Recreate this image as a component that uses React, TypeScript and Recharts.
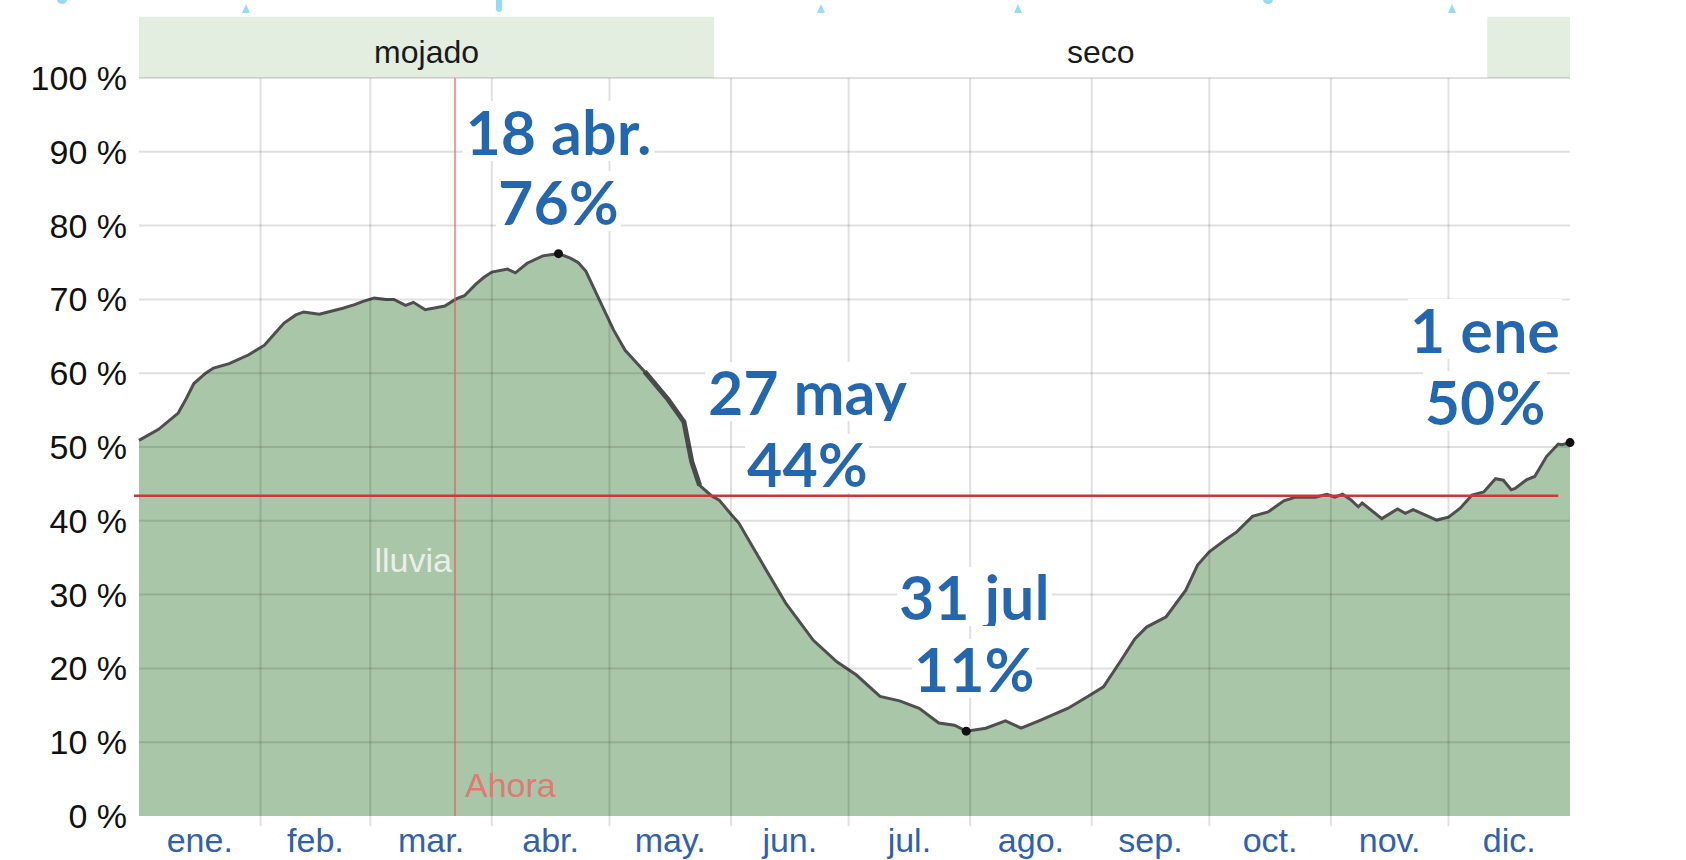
import React from 'react';
import {
  ComposedChart,
  Area,
  Line,
  XAxis,
  YAxis,
  ReferenceLine,
  ReferenceArea,
  ReferenceDot,
} from 'recharts';

// Probabilidad de lluvia, leída día a día (día del año 0..365, %).
const rainDays = [
  0, 5, 10, 12, 14, 17, 19, 23, 28, 32,
  34, 37, 40, 42, 46, 49, 52, 55, 57, 60,
  63, 65, 68, 70, 73, 76, 78, 81, 83, 86,
  88, 90, 94, 96, 99, 103, 107, 110, 112, 114,
  117, 121, 124, 129, 135, 139, 141, 143, 146, 148,
  151, 153, 159, 165, 172, 178, 183, 189, 194, 199,
  204, 208, 211, 216, 221, 225, 230, 237, 242, 246,
  250, 254, 257, 262, 267, 270, 273, 277, 280, 284,
  288, 292, 295, 300, 303, 305, 307, 309, 311, 312,
  317, 321, 323, 325, 328, 331, 334, 337, 340, 343,
  346, 348, 350, 351, 354, 356, 359, 362, 363, 365,
];
const rainValues = [
  50.9, 52.4, 54.6, 56.5, 58.6, 60.0, 60.7, 61.3, 62.5, 63.8,
  65.0, 66.8, 67.9, 68.3, 68.0, 68.4, 68.8, 69.3, 69.7, 70.2,
  70.0, 70.0, 69.2, 69.6, 68.6, 68.9, 69.1, 70.1, 70.5, 72.1,
  73.0, 73.7, 74.1, 73.6, 74.9, 75.9, 76.2, 75.6, 75.0, 73.8,
  70.4, 65.9, 63.1, 60.2, 56.4, 53.4, 48.0, 44.8, 43.4, 42.8,
  40.9, 39.7, 34.2, 28.8, 23.8, 20.9, 19.1, 16.2, 15.6, 14.6,
  12.6, 12.3, 11.5, 11.9, 12.9, 11.9, 13.0, 14.6, 16.2, 17.5,
  20.7, 24.0, 25.6, 27.0, 30.6, 34.0, 35.8, 37.4, 38.5, 40.6,
  41.2, 42.7, 43.2, 43.2, 43.6, 43.2, 43.6, 42.9, 41.9, 42.4,
  40.3, 41.6, 41.0, 41.5, 40.8, 40.1, 40.5, 41.7, 43.5, 43.9,
  45.7, 45.5, 44.2, 44.4, 45.6, 46.0, 48.7, 50.4, 50.3, 50.6,
];

const monthLabels = ['ene.', 'feb.', 'mar.', 'abr.', 'may.', 'jun.', 'jul.', 'ago.', 'sep.', 'oct.', 'nov.', 'dic.'];
const monthStartDays = [0, 31, 59, 90, 120, 151, 181, 212, 243, 273, 304, 334];
const monthLengths = [31, 28, 31, 30, 31, 30, 31, 31, 30, 31, 30, 31];
const percentTicks = [0, 10, 20, 30, 40, 50, 60, 70, 80, 90, 100];

// temporadas: mojado hasta el 27 may y desde el 10 dic
const wetSeasons = [[0, 146.7], [343.9, 365]];
const drySeason = [146.7, 343.9];

const nowDay = 80.6;
const thresholdValue = 43.4;
const thresholdSpan = [-1.3, 362];
const editedSpan = [129, 143];

const noteDays = [107, 146, 211, 365];
const noteValues = [76.2, 43.4, 11.5, 50.6];
const noteDates = ['18 abr.', '27 may', '31 jul', '1 ene'];
const notePercents = ['76%', '44%', '11%', '50%'];
const noteHasDot = [true, false, true, true];

// layout (px offsets from each anchor point)
const NOTE_OFFSETS = [
  { dx: 0, dy: [-99, -29] },
  { dx: 96, dy: [-81, -9] },
  { dx: 8, dy: [-111, -39] },
  { dx: -85, dy: [-90, -18] },
];
const BAND_TOP = 108.3; // top band extends above 100 %
const TICK_EXT = -1.4;
const LLUVIA_VALUE = 33;
const AHORA_VALUE = 2.6;

const drops = [
  { x: 62, kind: 'bottom' },
  { x: 246, kind: 'tip' },
  { x: 499, kind: 'long' },
  { x: 821, kind: 'tip' },
  { x: 1018, kind: 'tip' },
  { x: 1268, kind: 'bottom' },
  { x: 1452, kind: 'tip' },
];

const AXIS_FONT = '"Liberation Sans", Arial, Helvetica, sans-serif';
const NOTE_FONT = 'Lato, "Open Sans", sans-serif';
const NOTE_BLUE = '#2167b1';
const GRID = 'rgba(0,0,0,0.12)';

const chartData = rainDays.map((day, i) => ({
  day,
  rain: rainValues[i],
  edit: day >= editedSpan[0] && day <= editedSpan[1] ? rainValues[i] : null,
}));

function NoteLabel(props: any) {
  const { viewBox, lines, dx, dy } = props;
  if (!viewBox) return null;
  const cx = viewBox.x + (viewBox.width || 0) / 2;
  const cy = viewBox.y + (viewBox.height || 0) / 2;
  return (
    <g>
      {lines.map((t: string, i: number) => (
        <text
          key={t}
          x={cx + dx}
          y={cy + dy[i]}
          textAnchor="middle"
          filter="url(#noteBg)"
          style={{ fontFamily: NOTE_FONT, fontWeight: 700, fontSize: 61, fill: NOTE_BLUE }}
        >
          {t}
        </text>
      ))}
    </g>
  );
}

function PlainLabel(props: any) {
  const { viewBox, text, dx, anchor, color } = props;
  if (!viewBox) return null;
  const cx = viewBox.x + (viewBox.width || 0) / 2;
  const cy = viewBox.y + (viewBox.height || 0) / 2;
  return (
    <text
      x={cx + dx}
      y={cy}
      textAnchor={anchor}
      style={{ fontFamily: AXIS_FONT, fontSize: 34, fill: color }}
    >
      {text}
    </text>
  );
}

function BandLabel(props: any) {
  const { viewBox, text } = props;
  if (!viewBox) return null;
  return (
    <text
      x={viewBox.x + viewBox.width / 2}
      y={viewBox.y + viewBox.height - 15}
      textAnchor="middle"
      style={{ fontFamily: AXIS_FONT, fontSize: 32, fill: '#1a1a1a' }}
    >
      {text}
    </text>
  );
}

function Drops() {
  return (
    <svg width={1686} height={20} style={{ position: 'absolute', left: 0, top: 0 }}>
      {drops.map((d) => {
        if (d.kind === 'tip') {
          return <path key={d.x} d={`M${d.x},4 L${d.x + 4},13 L${d.x - 4},13 Z`} fill="#96dcf5" />;
        }
        if (d.kind === 'long') {
          return <path key={d.x} d={`M${d.x - 3},0 L${d.x + 3},0 L${d.x + 3},9 A3,3 0 0 1 ${d.x - 3},9 Z`} fill="#96dcf5" />;
        }
        return <ellipse key={d.x} cx={d.x} cy={0} rx={5} ry={4} fill="#96dcf5" />;
      })}
    </svg>
  );
}

export default function App() {
  const monthMid = monthStartDays.map((s, i) => s + monthLengths[i] / 2);

  return (
    <div style={{ position: 'relative', width: 1686, height: 860, background: '#fff' }}>
      <style>{'body{margin:0;}'}</style>
      <svg width={0} height={0} style={{ position: 'absolute' }}>
        <defs>
          <filter id="noteBg" x="-0.01" y="0.1" width="1.02" height="0.8">
            <feFlood floodColor="#ffffff" />
            <feMerge>
              <feMergeNode />
              <feMergeNode in="SourceGraphic" />
            </feMerge>
          </filter>
        </defs>
      </svg>
      <ComposedChart
        width={1686}
        height={860}
        data={chartData}
        margin={{ top: 78, right: 0, bottom: 0, left: 0 }}
      >
        <XAxis
          dataKey="day"
          type="number"
          domain={[0, 365]}
          ticks={monthMid}
          tickFormatter={(_v: number, i: number) => monthLabels[i]}
          interval={0}
          axisLine={false}
          tickLine={false}
          tickSize={0}
          tickMargin={12}
          height={44}
          tick={{ fill: '#3160ad', fontSize: 34, fontFamily: AXIS_FONT }}
        />
        <YAxis
          domain={[0, 100]}
          ticks={percentTicks}
          interval={0}
          tickFormatter={(v: number) => `${v} %`}
          axisLine={false}
          tickLine={false}
          tickSize={0}
          tickMargin={12}
          width={139}
          tick={{ fill: '#111', fontSize: 34, fontFamily: AXIS_FONT }}
        />
        <YAxis
          yAxisId="r"
          orientation="right"
          domain={[0, 100]}
          ticks={percentTicks}
          interval={0}
          tickFormatter={(v: number) => `${v} %`}
          axisLine={false}
          tickLine={false}
          tickSize={0}
          tickMargin={11}
          width={116}
          tick={{ fill: '#111', fontSize: 34, fontFamily: AXIS_FONT, textAnchor: 'start' }}
        />

        <Area
          type="linear"
          dataKey="rain"
          stroke="#4f4f4f"
          strokeWidth={3}
          fill="#a9c6a8"
          fillOpacity={1}
          isAnimationActive={false}
          dot={false}
          activeDot={false}
        />
        <Line
          type="linear"
          dataKey="edit"
          stroke="#4a4a4a"
          strokeWidth={5}
          dot={false}
          activeDot={false}
          connectNulls={false}
          isAnimationActive={false}
        />

        {percentTicks.filter((v) => v > 0).map((v) => (
          <ReferenceLine key={`h${v}`} y={v} stroke={GRID} strokeWidth={2} />
        ))}
        {monthStartDays.filter((d) => d > 0).map((d) => (
          <ReferenceLine
            key={`v${d}`}
            segment={[{ x: d, y: TICK_EXT }, { x: d, y: 100 }]}
            ifOverflow="visible"
            stroke={GRID}
            strokeWidth={2}
          />
        ))}

        {wetSeasons.map(([a, b], i) => (
          <ReferenceArea
            key={`wet${i}`}
            x1={a}
            x2={b}
            y1={100}
            y2={BAND_TOP}
            ifOverflow="visible"
            fill="#e3ede0"
            fillOpacity={1}
            stroke="none"
            label={i === 0 ? <BandLabel text="mojado" /> : undefined}
          />
        ))}
        <ReferenceArea
          x1={drySeason[0]}
          x2={drySeason[1]}
          y1={100}
          y2={BAND_TOP}
          ifOverflow="visible"
          fill="none"
          stroke="none"
          label={<BandLabel text="seco" />}
        />

        {noteDays.map((d, i) => (
          <ReferenceDot
            key={`note${i}`}
            x={d}
            y={noteValues[i]}
            r={noteHasDot[i] ? 4.5 : 0.1}
            fill={noteHasDot[i] ? '#111' : 'none'}
            stroke="none"
            ifOverflow="visible"
            label={
              <NoteLabel
                lines={[noteDates[i], notePercents[i]]}
                dx={NOTE_OFFSETS[i].dx}
                dy={NOTE_OFFSETS[i].dy}
              />
            }
          />
        ))}

        <ReferenceLine x={nowDay} stroke="rgba(236,90,90,0.6)" strokeWidth={2} />
        <ReferenceDot
          x={nowDay}
          y={AHORA_VALUE}
          r={0.1}
          fill="none"
          stroke="none"
          label={<PlainLabel text="Ahora" dx={10} anchor="start" color="#e07a72" />}
        />
        <ReferenceDot
          x={nowDay}
          y={LLUVIA_VALUE}
          r={0.1}
          fill="none"
          stroke="none"
          label={<PlainLabel text="lluvia" dx={-3} anchor="end" color="#eaf0e8" />}
        />

        <ReferenceLine
          segment={[{ x: thresholdSpan[0], y: thresholdValue }, { x: thresholdSpan[1], y: thresholdValue }]}
          ifOverflow="visible"
          stroke="#d2343c"
          strokeWidth={2.5}
        />
      </ComposedChart>
      <Drops />
    </div>
  );
}
